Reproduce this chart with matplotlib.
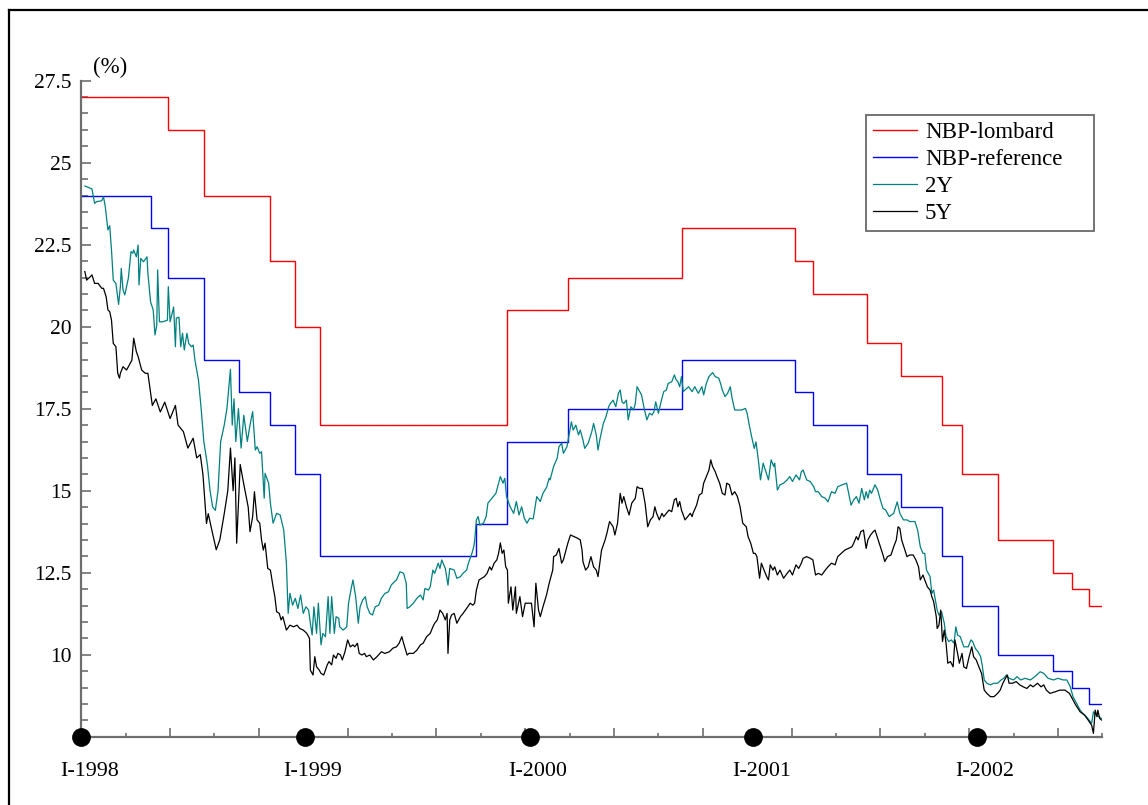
import matplotlib
matplotlib.use("Agg")
import matplotlib.pyplot as plt
from matplotlib.lines import Line2D
from matplotlib.ticker import FixedLocator, MultipleLocator, NullFormatter

plt.rcParams['font.family'] = ['Liberation Serif', 'DejaVu Serif']

# ---- data (x = trading-day index from 2 Jan 1998) ----
year_days = [0, 252, 505, 757, 1009]
year_labels = ['I-1998', 'I-1999', 'I-2000', 'I-2001', 'I-2002']

lombard_days = [0, 98, 138, 212, 241, 269, 479, 548, 677, 804, 824, 885, 923, 969, 992,
                1033, 1095, 1116, 1135, 1150]
lombard_rate = [27, 26, 24, 22, 20, 17, 20.5, 21.5, 23, 22, 21, 19.5, 18.5, 17, 15.5,
                13.5, 12.5, 12, 11.5, 11.5]

ref_days = [0, 79, 98, 138, 178, 212, 241, 269, 445, 479, 548, 677, 804, 824, 885, 923,
            969, 992, 1033, 1095, 1116, 1135, 1150]
ref_rate = [24, 23, 21.5, 19, 18, 17, 15.5, 13, 14, 16.5, 17.5, 19, 18, 17, 15.5, 14.5,
            13, 11.5, 10, 9.5, 9, 8.5, 8.5]

y2_days = [4, 12, 15, 17, 23, 25, 27, 30, 32, 34, 36, 39, 42, 44, 45, 47, 49, 53, 56, 58,
           59, 62, 64, 65, 67, 70, 74, 75, 78, 81, 83, 85, 86, 88, 92, 97, 98, 100, 104, 106,
           107, 110, 112, 114, 116, 119, 121, 124, 126, 128, 130, 132, 135, 138, 142, 145, 148, 151, 154, 157,
           161, 164, 168, 170, 172, 174, 177, 180, 183, 187, 190, 193, 196, 198, 201, 203, 206, 207, 211, 213,
           216, 220, 224, 228, 231, 233, 235, 238, 241, 244, 247, 250, 253, 256, 258, 260, 262, 265, 267, 270,
           272, 275, 278, 280, 282, 285, 287, 290, 291, 295, 299, 301, 304, 306, 309, 312, 314, 317, 320, 322,
           325, 328, 331, 335, 338, 342, 346, 349, 351, 355, 359, 363, 366, 367, 370, 374, 378, 382, 385, 387,
           391, 393, 396, 398, 402, 404, 406, 410, 413, 415, 420, 423, 427, 430, 434, 436, 438, 440, 442, 443,
           445, 447, 449, 453, 456, 458, 461, 464, 467, 470, 472, 475, 477, 479, 483, 487, 490, 493, 496, 499,
           502, 505, 509, 513, 517, 520, 524, 527, 528, 532, 536, 538, 541, 543, 547, 549, 552, 554, 557, 560,
           562, 565, 567, 571, 575, 577, 580, 582, 584, 588, 591, 594, 596, 599, 602, 605, 607, 609, 611, 614,
           616, 619, 622, 624, 626, 629, 631, 634, 637, 640, 643, 645, 647, 650, 653, 656, 659, 661, 665, 668,
           670, 672, 674, 676, 678, 680, 684, 688, 691, 695, 699, 701, 704, 707, 711, 714, 718, 720, 722, 725,
           728, 731, 733, 736, 740, 744, 748, 750, 752, 755, 758, 760, 763, 765, 768, 771, 774, 777, 780, 781,
           784, 787, 791, 795, 798, 801, 805, 809, 811, 813, 817, 821, 825, 827, 830, 834, 838, 841, 845, 849,
           852, 857, 862, 865, 867, 870, 873, 876, 879, 882, 884, 886, 888, 890, 894, 897, 900, 903, 906, 910,
           915, 919, 922, 926, 930, 933, 939, 942, 945, 948, 950, 952, 956, 958, 960, 962, 964, 966, 969, 972,
           974, 977, 980, 983, 985, 987, 990, 994, 997, 999, 1002, 1004, 1007, 1010, 1013, 1015, 1017, 1020, 1024, 1028,
           1032, 1036, 1039, 1042, 1045, 1050, 1054, 1058, 1063, 1069, 1074, 1080, 1084, 1089, 1095, 1100, 1106, 1110, 1114, 1117,
           1120, 1125, 1128, 1132, 1135, 1138, 1140, 1143, 1146, 1149]
y2_rate = [24.29, 24.20, 23.76, 23.81, 23.84, 23.96, 23.66, 22.95, 23.08, 22.34, 21.42, 21.32, 20.68, 21.22, 21.78, 21.12, 20.97, 21.48, 22.29, 22.24,
           22.34, 22.13, 22.49, 21.27, 22.08, 21.98, 22.13, 21.63, 20.76, 20.51, 19.75, 20.05, 21.73, 20.15, 20.15, 20.20, 21.22, 20.15, 20.60, 19.39,
           20.26, 20.29, 19.39, 19.80, 19.29, 19.80, 19.49, 19.39, 19.44, 18.98, 18.68, 18.37, 17.5, 16.5, 15.8, 15.0, 14.5, 14.4, 15.0, 16.5,
           17.0, 17.5, 18.7, 17.0, 17.8, 16.5, 17.5, 16.3, 17.3, 16.5, 17.0, 17.41, 16.24, 16.34, 16.14, 16.19, 14.77, 15.53, 15.23, 14.62,
           14.01, 14.31, 14.26, 13.80, 12.79, 11.26, 11.87, 11.51, 11.72, 11.41, 11.82, 11.26, 11.46, 11.36, 10.96, 10.60, 11.46, 10.65, 11.57, 10.30,
           10.65, 10.55, 11.77, 10.65, 11.77, 10.65, 11.16, 11.11, 10.85, 10.75, 10.85, 11.57, 12.02, 12.28, 11.77, 10.96, 11.46, 11.67, 11.77, 11.46,
           11.26, 11.21, 11.46, 11.51, 11.72, 11.87, 11.92, 12.12, 12.18, 12.28, 12.53, 12.48, 12.18, 11.41, 11.46, 11.57, 11.72, 11.82, 11.67, 12.02,
           11.97, 12.07, 12.58, 12.48, 12.79, 12.63, 12.89, 12.63, 12.12, 12.63, 12.58, 12.33, 12.38, 12.48, 12.58, 12.79, 12.94, 13.09, 13.29, 13.45,
           14.11, 14.21, 13.95, 14.01, 14.21, 14.62, 14.72, 14.82, 14.92, 15.23, 15.43, 15.23, 15.38, 14.82, 14.51, 14.31, 14.67, 14.26, 14.51, 14.16,
           14.01, 14.16, 14.14, 14.82, 14.67, 14.92, 15.10, 15.38, 15.33, 15.74, 15.99, 16.34, 16.45, 16.14, 16.34, 16.65, 17.10, 16.85, 17.00, 16.70,
           16.85, 16.55, 16.29, 16.45, 16.80, 17.05, 16.70, 16.24, 16.55, 17.05, 17.26, 17.56, 17.66, 17.76, 17.56, 17.97, 18.07, 17.71, 17.66, 17.76,
           17.16, 17.56, 17.46, 17.66, 18.17, 18.02, 17.92, 17.51, 17.16, 17.36, 17.31, 17.41, 17.71, 17.36, 17.71, 18.02, 18.07, 18.27, 18.32, 18.53,
           18.38, 18.32, 18.17, 18.48, 18.02, 18.07, 18.17, 18.02, 18.17, 17.97, 18.17, 17.92, 18.27, 18.48, 18.60, 18.48, 18.43, 18.27, 18.07, 17.87,
           17.97, 18.17, 17.82, 17.46, 17.46, 17.46, 17.51, 17.36, 17.05, 16.65, 16.29, 16.49, 15.84, 15.33, 15.84, 15.58, 15.33, 15.94, 15.74, 15.84,
           15.02, 15.18, 15.23, 15.33, 15.43, 15.28, 15.48, 15.33, 15.58, 15.63, 15.33, 15.28, 15.12, 14.97, 14.97, 14.82, 14.77, 14.66, 14.97, 14.92,
           15.12, 15.18, 15.23, 14.82, 14.56, 14.72, 14.82, 14.62, 15.07, 14.72, 14.97, 14.77, 15.02, 14.92, 15.18, 15.02, 14.72, 14.46, 14.41, 14.21,
           14.31, 14.66, 14.31, 14.11, 14.11, 14.06, 14.06, 13.80, 13.29, 13.09, 13.09, 12.58, 12.38, 11.87, 11.97, 11.67, 11.36, 11.21, 11.31, 10.96,
           10.55, 10.40, 10.45, 10.35, 10.85, 10.60, 10.55, 10.24, 10.24, 10.24, 10.45, 10.40, 10.19, 10.09, 9.94, 9.63, 9.23, 9.13, 9.08, 9.13,
           9.13, 9.23, 9.28, 9.38, 9.28, 9.23, 9.33, 9.23, 9.28, 9.23, 9.33, 9.48, 9.43, 9.28, 9.23, 9.28, 9.23, 9.23, 9.02, 8.72,
           8.57, 8.31, 8.21, 8.11, 8.01, 7.91, 8.26, 8.16, 8.11, 8.06]

y5_days = [4, 6, 10, 12, 15, 19, 23, 25, 28, 30, 32, 34, 36, 39, 41, 43, 44, 47, 51, 55,
           57, 59, 62, 64, 68, 72, 75, 80, 84, 89, 94, 100, 106, 109, 115, 120, 126, 130, 134, 137,
           141, 143, 147, 152, 156, 161, 165, 168, 171, 173, 175, 179, 183, 188, 190, 193, 195, 198, 201, 203,
           205, 207, 210, 213, 216, 218, 220, 223, 225, 227, 229, 231, 235, 239, 243, 246, 250, 254, 257, 258,
           261, 263, 265, 268, 270, 273, 275, 277, 279, 282, 284, 287, 289, 292, 294, 297, 300, 303, 306, 308,
           311, 313, 316, 319, 321, 325, 329, 333, 338, 342, 347, 351, 355, 358, 361, 363, 367, 369, 374, 378,
           382, 385, 389, 393, 396, 398, 401, 404, 407, 410, 412, 413, 415, 417, 420, 423, 427, 430, 434, 438,
           441, 443, 445, 448, 451, 454, 457, 460, 462, 465, 468, 470, 472, 474, 476, 478, 480, 481, 484, 486,
           489, 490, 494, 497, 500, 504, 507, 510, 512, 515, 517, 520, 524, 527, 531, 532, 535, 538, 541, 543,
           546, 548, 551, 555, 559, 562, 564, 565, 568, 571, 574, 577, 580, 582, 584, 586, 590, 592, 595, 599,
           601, 604, 607, 609, 611, 614, 617, 620, 624, 626, 629, 632, 635, 638, 641, 644, 646, 648, 651, 654,
           656, 659, 662, 665, 668, 670, 672, 674, 676, 678, 680, 683, 686, 688, 689, 693, 696, 699, 701, 704,
           707, 709, 711, 714, 716, 719, 722, 725, 727, 730, 733, 736, 739, 742, 745, 749, 751, 754, 757, 759,
           761, 764, 766, 769, 772, 774, 776, 779, 781, 784, 787, 791, 795, 798, 801, 805, 808, 811, 813, 817,
           821, 824, 827, 830, 834, 838, 841, 845, 849, 852, 856, 860, 864, 868, 870, 873, 875, 878, 881, 884,
           886, 889, 892, 894, 897, 900, 903, 905, 908, 912, 915, 918, 920, 922, 924, 927, 930, 933, 937, 940,
           943, 945, 948, 950, 953, 956, 958, 960, 963, 964, 966, 968, 970, 972, 974, 976, 979, 982, 984, 987,
           989, 992, 994, 997, 1000, 1003, 1005, 1008, 1011, 1014, 1017, 1020, 1024, 1028, 1032, 1035, 1038, 1040, 1043, 1045,
           1049, 1053, 1057, 1061, 1065, 1069, 1072, 1077, 1081, 1084, 1087, 1091, 1097, 1102, 1108, 1113, 1117, 1120, 1125, 1130,
           1134, 1138, 1140, 1142, 1144, 1145, 1147, 1149]
y5_rate = [21.68, 21.42, 21.52, 21.58, 21.32, 21.32, 21.17, 21.17, 20.91, 20.51, 20.46, 20.20, 19.49, 19.39, 18.58, 18.43, 18.58, 18.78, 18.68, 18.88,
           18.98, 19.65, 19.24, 19.09, 18.68, 18.58, 18.58, 17.6, 17.8, 17.4, 17.7, 17.2, 17.6, 17.0, 16.8, 16.3, 16.6, 16.0, 16.1, 15.5,
           14.0, 14.3, 13.8, 13.2, 13.5, 14.3, 15.0, 16.3, 15.0, 16.0, 13.4, 15.8, 15.2, 14.5, 13.75, 14.21, 14.97, 14.11, 14.01, 13.50,
           13.19, 13.40, 12.63, 12.58, 12.07, 11.77, 11.31, 11.26, 11.06, 11.16, 10.96, 10.75, 10.90, 10.85, 10.90, 10.80, 10.75, 10.65, 10.50, 9.53,
           9.38, 9.94, 9.63, 9.53, 9.43, 9.38, 9.53, 9.69, 9.79, 9.69, 9.99, 9.89, 10.04, 9.99, 9.84, 10.09, 10.45, 10.24, 10.30, 10.24,
           10.35, 10.04, 9.99, 10.04, 9.94, 9.99, 9.84, 9.94, 10.09, 10.04, 10.09, 10.20, 10.24, 10.35, 10.55, 10.35, 9.99, 10.04, 10.04, 10.14,
           10.30, 10.35, 10.55, 10.65, 10.85, 10.96, 11.06, 11.36, 11.26, 11.06, 11.26, 10.04, 11.06, 11.21, 11.26, 10.96, 11.16, 11.26, 11.41, 11.57,
           11.51, 11.57, 11.97, 12.28, 12.33, 12.38, 12.48, 12.68, 12.58, 12.79, 12.89, 13.09, 13.41, 13.09, 13.19, 12.68, 12.58, 11.57, 12.07, 11.36,
           12.07, 11.26, 11.77, 11.16, 11.57, 11.57, 11.57, 10.85, 12.18, 11.36, 11.16, 11.46, 11.82, 12.18, 12.58, 12.99, 13.04, 13.24, 12.79, 12.89,
           13.19, 13.40, 13.65, 13.60, 13.55, 13.50, 13.19, 12.84, 12.58, 12.68, 12.99, 12.68, 12.58, 12.38, 12.79, 13.19, 13.50, 13.70, 14.06, 13.90,
           13.65, 14.01, 14.92, 14.62, 14.82, 14.51, 14.26, 14.62, 14.77, 15.12, 15.07, 15.07, 14.62, 13.90, 14.11, 14.21, 14.51, 14.31, 14.11, 14.31,
           14.21, 14.31, 14.41, 14.36, 14.72, 14.77, 14.51, 14.67, 14.41, 14.26, 14.11, 14.21, 14.31, 14.21, 14.31, 14.56, 14.87, 14.92, 15.23, 15.43,
           15.63, 15.94, 15.74, 15.58, 15.43, 15.23, 14.92, 14.87, 15.23, 15.18, 14.87, 14.97, 14.82, 14.51, 14.01, 13.90, 13.60, 13.40, 13.09, 13.09,
           12.99, 12.33, 12.79, 12.58, 12.38, 12.28, 12.74, 12.58, 12.68, 12.43, 12.58, 12.33, 12.48, 12.58, 12.43, 12.74, 12.63, 12.79, 12.94, 12.99,
           12.94, 12.89, 12.43, 12.48, 12.43, 12.58, 12.68, 12.79, 12.74, 12.99, 13.09, 13.19, 13.24, 13.29, 13.40, 13.60, 13.50, 13.75, 13.80, 13.24,
           13.50, 13.65, 13.75, 13.80, 13.55, 13.29, 13.04, 12.84, 12.99, 13.04, 13.29, 13.50, 13.90, 13.85, 13.50, 13.24, 12.99, 13.04, 13.04, 12.89,
           12.68, 12.28, 12.43, 12.28, 12.07, 11.97, 11.77, 11.62, 11.16, 10.80, 10.90, 11.36, 10.40, 10.75, 10.35, 9.74, 9.79, 9.63, 10.45, 10.04,
           9.74, 10.04, 9.63, 9.58, 9.94, 10.24, 9.94, 9.84, 9.63, 9.43, 8.92, 8.82, 8.72, 8.72, 8.82, 8.92, 9.13, 9.23, 9.38, 9.13,
           9.13, 9.18, 9.08, 9.02, 8.97, 9.08, 9.02, 9.13, 9.02, 9.08, 8.92, 8.82, 8.87, 8.92, 8.92, 8.82, 8.62, 8.47, 8.26, 8.16,
           8.01, 7.85, 7.60, 8.31, 8.11, 8.31, 8.06, 8.01]

y_major = [7.5, 10, 12.5, 15, 17.5, 20, 22.5, 25, 27.5]
y_major_labels = ['', '10', '12.5', '15', '17.5', '20', '22.5', '25', '27.5']

# ---- figure ----
W, H = 1148, 805
fig = plt.figure(figsize=(W / 100, H / 100), dpi=100)
ax = fig.add_axes([81.3 / W, 1 - 736.7 / H, (1102.3 - 81.3) / W, (736.7 - 80.7) / H])

axis_col = '#6e6e6e'
ax.plot(lombard_days, lombard_rate, drawstyle='steps-post', color='#ff0000', lw=1.0, label='NBP-lombard')
ax.plot(ref_days, ref_rate, drawstyle='steps-post', color='#0000ff', lw=1.0, label='NBP-reference')
ax.plot(y2_days, y2_rate, color='#008080', lw=0.9, label='2Y')
ax.plot(y5_days, y5_rate, color='black', lw=0.9, label='5Y')

ax.plot(year_days, [7.5] * len(year_days), 'o', color='black', ms=12.5, clip_on=False, zorder=10)

ax.set_xlim(0, 1150)
ax.set_ylim(7.5, 27.5)

for s in ['top', 'right']:
    ax.spines[s].set_visible(False)
for s in ['left', 'bottom']:
    ax.spines[s].set_color(axis_col)
    ax.spines[s].set_linewidth(1.6)

ax.yaxis.set_major_locator(FixedLocator(y_major))
ax.set_yticklabels(y_major_labels)
ax.yaxis.set_minor_locator(MultipleLocator(0.5))
ax.xaxis.set_major_locator(MultipleLocator(100))
ax.xaxis.set_minor_locator(MultipleLocator(50))
ax.xaxis.set_major_formatter(NullFormatter())
ax.tick_params(axis='y', which='major', direction='in', length=7, width=1.2, color=axis_col,
               labelsize=15.5, pad=7)
ax.tick_params(axis='y', which='minor', direction='in', length=5, width=1.2, color=axis_col)
ax.tick_params(axis='x', which='major', direction='in', length=6.5, width=1.2, color=axis_col)
ax.tick_params(axis='x', which='minor', direction='in', length=3, width=1.2, color=axis_col)

for d, lab in zip(year_days, year_labels):
    ax.text(d + 9, -0.0535, lab, transform=ax.get_xaxis_transform(), ha='center', va='center',
            fontsize=15.8)

ax.text(33, 27.9, '(%)', ha='center', va='center', fontsize=16.5, clip_on=False)

leg = ax.legend(loc='upper left',
                bbox_to_anchor=(865.7 / W, 1 - 227.7 / H, (1094.3 - 865.7) / W, (227.7 - 115) / H),
                bbox_transform=fig.transFigure, mode='expand', fontsize=16.5, frameon=True,
                fancybox=False, borderaxespad=0, borderpad=0.3, handlelength=1.96,
                handletextpad=0.32, labelspacing=0.26)
leg.get_frame().set_edgecolor('#444444')
leg.get_frame().set_linewidth(1.3)

# figure border (left and top edges)
fig.add_artist(Line2D([9 / W, 9 / W], [0, 1 - 10 / H], transform=fig.transFigure, color='black', lw=1.6))
fig.add_artist(Line2D([9 / W, 1], [1 - 10 / H, 1 - 10 / H], transform=fig.transFigure, color='black', lw=1.6))

fig.savefig('out.png', dpi=100)
